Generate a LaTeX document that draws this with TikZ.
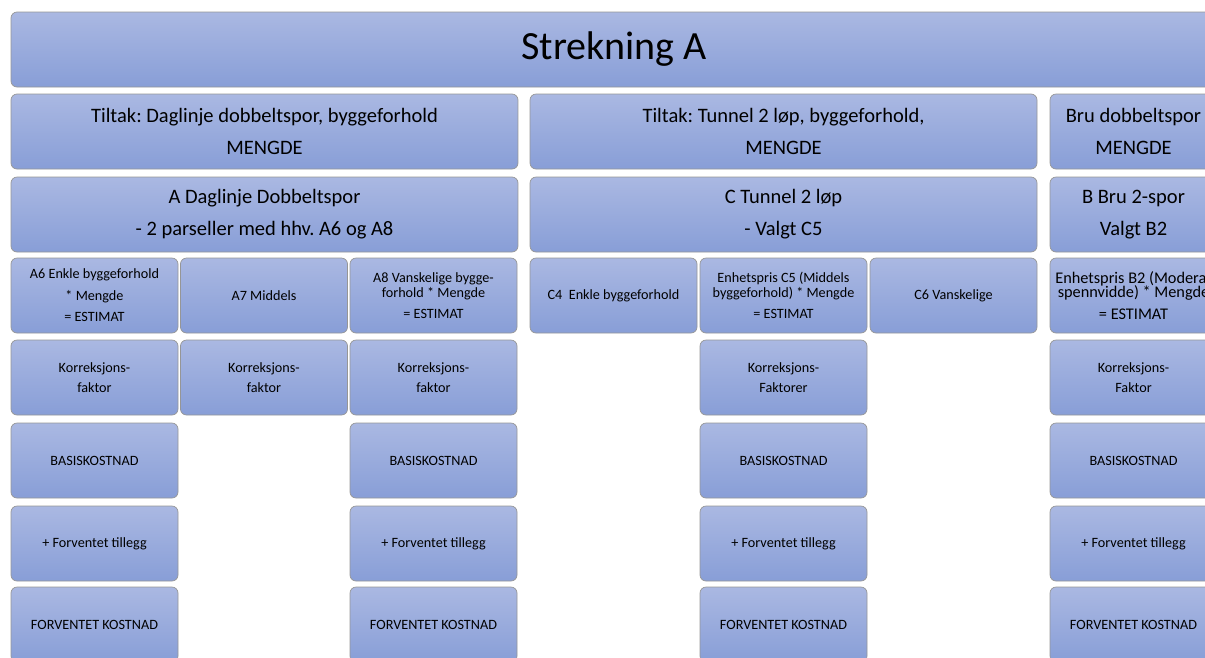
\documentclass[tikz,border=0pt]{standalone}
\usepackage{fontspec}
\setmainfont{Carlito}
\frenchspacing
\definecolor{boxtop}{RGB}{170,184,226}
\definecolor{boxbot}{RGB}{136,158,215}
\definecolor{boxborder}{RGB}{150,150,150}
\tikzset{
  box/.style={rounded corners=6pt, draw=boxborder, line width=0.7pt,
    top color=boxtop, bottom color=boxbot, inner sep=0pt, outer sep=0pt,
    anchor=north west, align=center, text=black, minimum height=75pt},
  bigtxt/.style={font=\fontsize{40}{48}\selectfont},
  midtxt/.style={font=\fontsize{20.5}{32}\selectfont},
  smalltxt/.style={font=\fontsize{14.2}{20}\selectfont},
  btxt/.style={font=\fontsize{16.3}{20}\selectfont},
  wone/.style={minimum width=167pt},
  wgrp/.style={minimum width=507pt},
}
\begin{document}
\begin{tikzpicture}[x=1pt,y=-1pt]
\path[use as bounding box] (0,0) rectangle (1205,657);
\clip (0,0) rectangle (1205,657);
% row 1
\node[box, bigtxt, minimum width=1206pt] (top) at (11,12) {Strekning A};
% row 2
\node[box, midtxt, wgrp] (tA) at (11,94) {Tiltak: Daglinje dobbeltspor, byggeforhold\\MENGDE};
\node[box, midtxt, wgrp] (tC) at (530,94) {Tiltak: Tunnel 2 løp, byggeforhold,\\MENGDE};
\node[box, midtxt, wone] (tB) at (1050,94) {Bru dobbeltspor\\MENGDE};
% row 3
\node[box, midtxt, wgrp] (gA) at (11,177) {A Daglinje Dobbeltspor\\- 2 parseller med hhv. A6 og A8};
\node[box, midtxt, wgrp] (gC) at (530,177) {C Tunnel 2 løp\\- Valgt C5};
\node[box, midtxt, wone] (gB) at (1050,177) {B Bru 2-spor\\Valgt B2};
% row 4
\node[box, smalltxt, wone, font=\fontsize{14.2}{21.5}\selectfont] (a6) at (11,258) {A6 Enkle byggeforhold\\{}* Mengde\\{}= ESTIMAT};
\node[box, smalltxt, wone] (a7) at (180.5,258) {A7 Middels};
\node[box, smalltxt, wone] (a8) at (350,258) {A8 Vanskelige bygge-\\[-5pt]forhold * Mengde\\[1pt]{}= ESTIMAT};
\node[box, smalltxt, wone] (c4) at (530,258) {C4\ \ Enkle byggeforhold};
\node[box, smalltxt, wone] (c5) at (700,258) {Enhetspris C5 (Middels\\[-5pt]byggeforhold) * Mengde\\[1pt]{}= ESTIMAT};
\node[box, smalltxt, wone] (c6) at (870,258) {C6 Vanskelige};
\node[box, btxt, wone] (b2) at (1050,258) {Enhetspris B2 (Moderat\\[-6pt]spennvidde) * Mengde\\[2pt]{}= ESTIMAT};
% row 5
\node[box, smalltxt, wone] (a6k) at (11,340) {Korreksjons-\\faktor};
\node[box, smalltxt, wone] (a7k) at (180.5,340) {Korreksjons-\\faktor};
\node[box, smalltxt, wone] (a8k) at (350,340) {Korreksjons-\\faktor};
\node[box, smalltxt, wone] (c5k) at (700,340) {Korreksjons-\\Faktorer};
\node[box, smalltxt, wone] (b2k) at (1050,340) {Korreksjons-\\Faktor};
% row 6
\node[box, smalltxt, wone] (a6b) at (11,423) {BASISKOSTNAD};
\node[box, smalltxt, wone] (a8b) at (350,423) {BASISKOSTNAD};
\node[box, smalltxt, wone] (c5b) at (700,423) {BASISKOSTNAD};
\node[box, smalltxt, wone] (b2b) at (1050,423) {BASISKOSTNAD};
% row 7
\node[box, smalltxt, wone] (a6t) at (11,506) {+ Forventet tillegg};
\node[box, smalltxt, wone] (a8t) at (350,506) {+ Forventet tillegg};
\node[box, smalltxt, wone] (c5t) at (700,506) {+ Forventet tillegg};
\node[box, smalltxt, wone] (b2t) at (1050,506) {+ Forventet tillegg};
% row 8
\node[box, smalltxt, wone] (a6f) at (11,587) {FORVENTET KOSTNAD};
\node[box, smalltxt, wone] (a8f) at (350,587) {FORVENTET KOSTNAD};
\node[box, smalltxt, wone] (c5f) at (700,587) {FORVENTET KOSTNAD};
\node[box, smalltxt, wone] (b2f) at (1050,587) {FORVENTET KOSTNAD};
\end{tikzpicture}
\end{document}
